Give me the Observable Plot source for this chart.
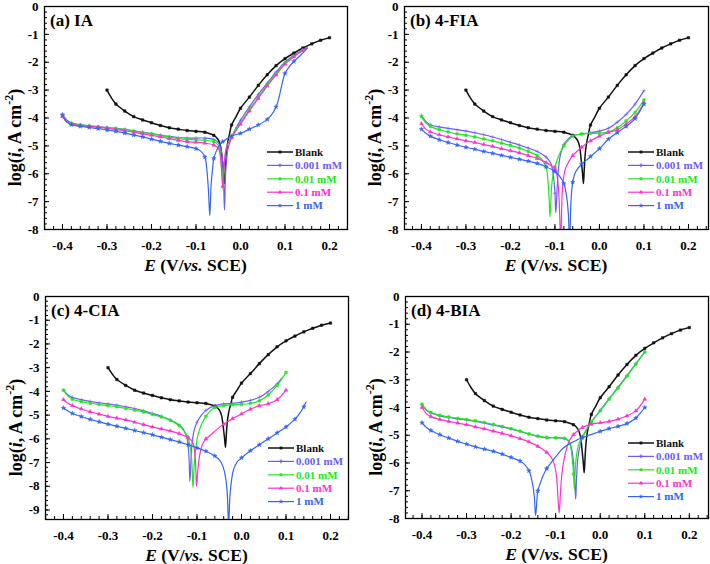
<!DOCTYPE html>
<html><head><meta charset="utf-8">
<script src="https://cdn.jsdelivr.net/npm/d3@7"></script>
<script src="https://cdn.jsdelivr.net/npm/@observablehq/plot@0.6"></script>
<style>
body{margin:0;background:#fff;}
#wrap{position:relative;width:710px;height:564px;overflow:hidden;}
.p{position:absolute;}
</style></head><body><div id="wrap"></div>
<script>
// ---------- categories / style keys ----------
const seriesNames = ["Blank", "0.001 mM", "0.01 mM", "0.1 mM", "1 mM"];
const seriesColors = ["#111111", "#6b5cf5", "#22e622", "#ff33cc", "#3366ee"];
const seriesSymbols = ["square", "plus", "square", "triangle", "star"];
const xTickValues = [-0.4, -0.3, -0.2, -0.1, 0, 0.1, 0.2];
const yTickValues8 = [0, -1, -2, -3, -4, -5, -6, -7, -8];
const yTickValues9 = [0, -1, -2, -3, -4, -5, -6, -7, -8, -9];

// ---------- data: [E (V vs SCE), log i] ----------
const blank = [[-0.3,-3.0],[-0.29,-3.28],[-0.28,-3.5],[-0.26,-3.75],[-0.24,-3.95],[-0.22,-4.07],[-0.2,-4.17],[-0.18,-4.27],[-0.16,-4.35],[-0.14,-4.4],[-0.12,-4.45],[-0.1,-4.48],[-0.08,-4.51],[-0.06,-4.62],[-0.05,-4.78],[-0.045,-5.0],[-0.041,-5.5],[-0.038,-6.0],[-0.036,-6.35],[-0.034,-5.8],[-0.032,-5.3],[-0.029,-4.9],[-0.025,-4.6],[-0.02,-4.25],[-0.01,-3.95],[0.0,-3.65],[0.02,-3.25],[0.04,-2.83],[0.06,-2.45],[0.08,-2.12],[0.1,-1.87],[0.12,-1.67],[0.14,-1.49],[0.16,-1.34],[0.18,-1.21],[0.2,-1.12]];

// (a) IA
const ia0001 = [[-0.4,-3.85],[-0.39,-4.08],[-0.38,-4.17],[-0.36,-4.24],[-0.34,-4.28],[-0.32,-4.31],[-0.3,-4.34],[-0.28,-4.37],[-0.26,-4.41],[-0.24,-4.46],[-0.22,-4.51],[-0.2,-4.56],[-0.18,-4.61],[-0.16,-4.66],[-0.14,-4.7],[-0.12,-4.72],[-0.1,-4.72],[-0.08,-4.72],[-0.06,-4.77],[-0.05,-4.88],[-0.044,-5.1],[-0.04,-5.6],[-0.038,-6.3],[-0.036,-7.3],[-0.034,-6.2],[-0.032,-5.6],[-0.028,-5.1],[-0.02,-4.7],[-0.01,-4.35],[0.0,-4.08],[0.02,-3.6],[0.04,-3.15],[0.06,-2.75],[0.08,-2.35],[0.1,-2.0],[0.12,-1.75],[0.14,-1.55],[0.15,-1.45]];
const ia001 = [[-0.4,-3.9],[-0.39,-4.12],[-0.38,-4.2],[-0.36,-4.25],[-0.34,-4.29],[-0.32,-4.32],[-0.3,-4.35],[-0.28,-4.38],[-0.26,-4.42],[-0.24,-4.47],[-0.22,-4.52],[-0.2,-4.57],[-0.18,-4.63],[-0.16,-4.69],[-0.14,-4.74],[-0.12,-4.77],[-0.1,-4.78],[-0.08,-4.8],[-0.06,-4.85],[-0.05,-4.97],[-0.046,-5.2],[-0.042,-5.8],[-0.039,-6.6],[-0.037,-5.9],[-0.034,-5.3],[-0.03,-4.98],[-0.02,-4.68],[-0.01,-4.4],[0.0,-4.18],[0.02,-3.7],[0.04,-3.25],[0.06,-2.8],[0.08,-2.4],[0.1,-2.03],[0.12,-1.78],[0.14,-1.57],[0.15,-1.47]];
const ia01 = [[-0.4,-3.95],[-0.39,-4.15],[-0.38,-4.22],[-0.36,-4.27],[-0.34,-4.3],[-0.32,-4.33],[-0.3,-4.37],[-0.28,-4.41],[-0.26,-4.46],[-0.24,-4.51],[-0.22,-4.57],[-0.2,-4.62],[-0.18,-4.68],[-0.16,-4.74],[-0.14,-4.8],[-0.12,-4.85],[-0.1,-4.87],[-0.08,-4.9],[-0.06,-4.97],[-0.05,-5.08],[-0.046,-5.3],[-0.043,-5.8],[-0.04,-6.45],[-0.037,-5.8],[-0.034,-5.25],[-0.03,-4.98],[-0.02,-4.7],[-0.01,-4.45],[0.0,-4.22],[0.02,-3.75],[0.04,-3.3],[0.06,-2.85],[0.08,-2.45],[0.1,-2.07],[0.12,-1.8],[0.14,-1.58],[0.15,-1.48]];
const ia1 = [[-0.4,-3.9],[-0.39,-4.15],[-0.38,-4.24],[-0.36,-4.3],[-0.34,-4.34],[-0.32,-4.38],[-0.3,-4.43],[-0.28,-4.48],[-0.26,-4.54],[-0.24,-4.61],[-0.22,-4.68],[-0.2,-4.76],[-0.18,-4.84],[-0.16,-4.91],[-0.14,-4.97],[-0.12,-5.03],[-0.1,-5.1],[-0.09,-5.18],[-0.08,-5.4],[-0.076,-5.8],[-0.072,-6.6],[-0.069,-7.5],[-0.066,-6.4],[-0.062,-5.7],[-0.06,-5.45],[-0.05,-5.05],[-0.04,-4.85],[-0.02,-4.65],[0.0,-4.55],[0.02,-4.4],[0.04,-4.25],[0.06,-4.05],[0.07,-3.88],[0.08,-3.6],[0.086,-3.3],[0.093,-2.8],[0.1,-2.4],[0.11,-2.15],[0.12,-1.97],[0.135,-1.75],[0.15,-1.5]];

// (b) 4-FIA
const fia0001 = [[-0.4,-3.9],[-0.39,-4.12],[-0.38,-4.24],[-0.36,-4.32],[-0.34,-4.37],[-0.32,-4.42],[-0.3,-4.47],[-0.28,-4.53],[-0.26,-4.6],[-0.24,-4.68],[-0.22,-4.77],[-0.2,-4.87],[-0.18,-4.97],[-0.16,-5.08],[-0.14,-5.2],[-0.12,-5.4],[-0.11,-5.6],[-0.104,-6.0],[-0.1,-6.7],[-0.098,-7.4],[-0.095,-6.5],[-0.092,-5.8],[-0.088,-5.35],[-0.08,-4.95],[-0.07,-4.75],[-0.06,-4.63],[-0.04,-4.58],[-0.02,-4.53],[0.0,-4.47],[0.02,-4.37],[0.04,-4.15],[0.06,-3.87],[0.08,-3.5],[0.1,-3.02]];
const fia001 = [[-0.4,-3.95],[-0.39,-4.18],[-0.38,-4.3],[-0.36,-4.42],[-0.34,-4.5],[-0.32,-4.57],[-0.3,-4.62],[-0.28,-4.68],[-0.26,-4.75],[-0.24,-4.82],[-0.22,-4.9],[-0.2,-4.98],[-0.18,-5.08],[-0.16,-5.2],[-0.14,-5.35],[-0.13,-5.48],[-0.12,-5.75],[-0.116,-6.2],[-0.113,-6.9],[-0.111,-7.55],[-0.108,-6.6],[-0.105,-6.1],[-0.1,-5.75],[-0.09,-5.3],[-0.08,-5.0],[-0.07,-4.8],[-0.06,-4.65],[-0.04,-4.57],[-0.02,-4.55],[0.0,-4.55],[0.02,-4.5],[0.04,-4.35],[0.06,-4.1],[0.08,-3.8],[0.1,-3.35]];
const fia01 = [[-0.4,-4.2],[-0.39,-4.4],[-0.38,-4.5],[-0.36,-4.6],[-0.34,-4.68],[-0.32,-4.75],[-0.3,-4.82],[-0.28,-4.88],[-0.26,-4.95],[-0.24,-5.02],[-0.22,-5.1],[-0.2,-5.17],[-0.18,-5.25],[-0.16,-5.35],[-0.14,-5.45],[-0.12,-5.6],[-0.1,-5.82],[-0.095,-6.1],[-0.091,-6.8],[-0.087,-8.4],[-0.084,-6.8],[-0.081,-6.2],[-0.076,-5.8],[-0.07,-5.6],[-0.06,-5.35],[-0.04,-5.05],[-0.02,-4.82],[0.0,-4.65],[0.02,-4.52],[0.04,-4.42],[0.06,-4.22],[0.08,-3.95],[0.1,-3.45]];
const fia1 = [[-0.4,-4.4],[-0.39,-4.55],[-0.38,-4.65],[-0.36,-4.78],[-0.34,-4.88],[-0.32,-4.97],[-0.3,-5.05],[-0.28,-5.12],[-0.26,-5.2],[-0.24,-5.27],[-0.22,-5.34],[-0.2,-5.41],[-0.18,-5.48],[-0.16,-5.55],[-0.14,-5.63],[-0.12,-5.75],[-0.1,-5.92],[-0.09,-6.08],[-0.08,-6.35],[-0.074,-6.8],[-0.07,-7.4],[-0.067,-8.6],[-0.064,-7.0],[-0.06,-6.3],[-0.054,-5.95],[-0.04,-5.65],[-0.03,-5.52],[-0.02,-5.38],[0.0,-5.1],[0.02,-4.76],[0.04,-4.52],[0.06,-4.3],[0.08,-4.02],[0.1,-3.5]];

// (c) 4-CIA
const cia0001 = [[-0.4,-3.95],[-0.39,-4.15],[-0.38,-4.25],[-0.36,-4.35],[-0.34,-4.42],[-0.32,-4.48],[-0.3,-4.53],[-0.28,-4.58],[-0.26,-4.65],[-0.24,-4.72],[-0.22,-4.82],[-0.2,-4.93],[-0.18,-5.05],[-0.16,-5.2],[-0.14,-5.42],[-0.13,-5.62],[-0.122,-6.0],[-0.118,-6.8],[-0.116,-7.8],[-0.113,-6.7],[-0.11,-6.0],[-0.105,-5.55],[-0.1,-5.3],[-0.09,-5.0],[-0.08,-4.8],[-0.06,-4.6],[-0.04,-4.53],[-0.02,-4.5],[0.0,-4.45],[0.02,-4.38],[0.04,-4.25],[0.06,-4.0],[0.08,-3.68],[0.09,-3.45]];
const cia001 = [[-0.4,-3.95],[-0.39,-4.2],[-0.38,-4.33],[-0.36,-4.43],[-0.34,-4.5],[-0.32,-4.55],[-0.3,-4.6],[-0.28,-4.65],[-0.26,-4.72],[-0.24,-4.79],[-0.22,-4.87],[-0.2,-4.97],[-0.18,-5.08],[-0.16,-5.22],[-0.14,-5.45],[-0.13,-5.65],[-0.12,-5.95],[-0.114,-6.5],[-0.111,-7.2],[-0.109,-8.05],[-0.106,-7.0],[-0.102,-6.3],[-0.098,-5.85],[-0.09,-5.4],[-0.08,-5.05],[-0.07,-4.82],[-0.06,-4.68],[-0.04,-4.6],[-0.02,-4.56],[0.0,-4.55],[0.02,-4.5],[0.04,-4.4],[0.06,-4.15],[0.08,-3.75],[0.1,-3.2]];
const cia01 = [[-0.4,-4.35],[-0.39,-4.5],[-0.38,-4.6],[-0.36,-4.74],[-0.34,-4.86],[-0.32,-4.96],[-0.3,-5.05],[-0.28,-5.13],[-0.26,-5.2],[-0.24,-5.3],[-0.22,-5.4],[-0.2,-5.5],[-0.18,-5.58],[-0.16,-5.67],[-0.14,-5.78],[-0.12,-5.95],[-0.11,-6.12],[-0.106,-6.45],[-0.103,-7.1],[-0.101,-8.0],[-0.098,-7.3],[-0.094,-6.7],[-0.088,-6.25],[-0.08,-6.0],[-0.07,-5.85],[-0.055,-5.6],[-0.04,-5.38],[-0.02,-5.15],[0.0,-4.95],[0.02,-4.75],[0.04,-4.6],[0.06,-4.52],[0.08,-4.35],[0.1,-3.95]];
const cia1 = [[-0.4,-4.7],[-0.39,-4.83],[-0.38,-4.93],[-0.36,-5.06],[-0.34,-5.18],[-0.32,-5.28],[-0.3,-5.38],[-0.28,-5.47],[-0.26,-5.56],[-0.24,-5.65],[-0.22,-5.74],[-0.2,-5.83],[-0.18,-5.93],[-0.16,-6.03],[-0.14,-6.13],[-0.12,-6.25],[-0.1,-6.38],[-0.08,-6.52],[-0.06,-6.72],[-0.05,-6.88],[-0.042,-7.15],[-0.036,-7.6],[-0.032,-8.3],[-0.029,-9.6],[-0.026,-8.4],[-0.022,-7.7],[-0.018,-7.3],[-0.01,-6.98],[0.0,-6.8],[0.02,-6.5],[0.04,-6.25],[0.06,-6.0],[0.08,-5.75],[0.1,-5.5],[0.12,-5.17],[0.13,-4.95],[0.14,-4.65],[0.145,-4.45]];

// (d) 4-BIA
const bia0001 = [[-0.4,-3.9],[-0.39,-4.1],[-0.38,-4.2],[-0.36,-4.3],[-0.34,-4.36],[-0.32,-4.41],[-0.3,-4.45],[-0.28,-4.5],[-0.26,-4.56],[-0.24,-4.63],[-0.22,-4.7],[-0.2,-4.78],[-0.18,-4.86],[-0.16,-4.96],[-0.14,-5.04],[-0.12,-5.09],[-0.1,-5.09],[-0.08,-5.12],[-0.07,-5.22],[-0.064,-5.5],[-0.06,-6.0],[-0.057,-6.7],[-0.055,-7.3],[-0.053,-6.5],[-0.05,-5.8],[-0.045,-5.35],[-0.04,-5.1],[-0.03,-4.78],[-0.02,-4.52],[0.0,-4.1],[0.02,-3.68],[0.04,-3.27],[0.06,-2.85],[0.08,-2.42],[0.1,-2.0]];
const bia001 = [[-0.4,-3.88],[-0.39,-4.08],[-0.38,-4.18],[-0.36,-4.28],[-0.34,-4.34],[-0.32,-4.39],[-0.3,-4.43],[-0.28,-4.48],[-0.26,-4.54],[-0.24,-4.61],[-0.22,-4.68],[-0.2,-4.76],[-0.18,-4.85],[-0.16,-4.95],[-0.14,-5.03],[-0.12,-5.08],[-0.1,-5.09],[-0.08,-5.11],[-0.07,-5.2],[-0.066,-5.45],[-0.062,-5.95],[-0.06,-6.4],[-0.058,-6.95],[-0.056,-6.2],[-0.053,-5.7],[-0.048,-5.3],[-0.04,-5.05],[-0.03,-4.76],[-0.02,-4.52],[0.0,-4.12],[0.02,-3.7],[0.04,-3.3],[0.06,-2.87],[0.08,-2.44],[0.1,-2.0]];
const bia01 = [[-0.4,-4.0],[-0.39,-4.22],[-0.38,-4.33],[-0.36,-4.43],[-0.34,-4.5],[-0.32,-4.56],[-0.3,-4.62],[-0.28,-4.7],[-0.26,-4.77],[-0.24,-4.85],[-0.22,-4.93],[-0.2,-5.02],[-0.18,-5.12],[-0.16,-5.24],[-0.14,-5.4],[-0.12,-5.62],[-0.11,-5.8],[-0.103,-6.05],[-0.098,-6.5],[-0.095,-7.2],[-0.092,-7.8],[-0.089,-7.0],[-0.086,-6.4],[-0.082,-5.95],[-0.076,-5.5],[-0.07,-5.22],[-0.06,-4.98],[-0.05,-4.83],[-0.04,-4.72],[-0.02,-4.6],[0.0,-4.55],[0.02,-4.5],[0.04,-4.42],[0.06,-4.3],[0.08,-4.12],[0.1,-3.7]];
const bia1 = [[-0.4,-4.55],[-0.39,-4.72],[-0.38,-4.83],[-0.36,-4.98],[-0.34,-5.1],[-0.32,-5.22],[-0.3,-5.32],[-0.28,-5.42],[-0.26,-5.5],[-0.24,-5.58],[-0.22,-5.68],[-0.2,-5.8],[-0.18,-5.93],[-0.17,-6.05],[-0.16,-6.28],[-0.153,-6.65],[-0.148,-7.2],[-0.145,-7.9],[-0.14,-7.0],[-0.135,-6.75],[-0.128,-6.45],[-0.12,-6.2],[-0.106,-5.9],[-0.095,-5.68],[-0.084,-5.48],[-0.07,-5.32],[-0.054,-5.19],[-0.04,-5.08],[-0.016,-4.95],[0.0,-4.86],[0.02,-4.76],[0.04,-4.68],[0.06,-4.58],[0.08,-4.38],[0.09,-4.2],[0.1,-4.0]];

// ---------- panels ----------
const panels = [
  {title: "(a) IA", series: [blank, ia0001, ia001, ia01, ia1], xDomain: [-0.4404, 0.2404], yDomain: [-8, 0], yTicks: yTickValues8,
   left: 0, top: 0, width: 355, height: 280, m: {l: 44, r: 8, t: 6, b: 51}, legendDy: 146},
  {title: "(b) 4-FIA", series: [blank, fia0001, fia001, fia01, fia1], xDomain: [-0.438, 0.245], yDomain: [-8, 0], yTicks: yTickValues8,
   left: 355, top: 0, width: 355, height: 280, m: {l: 49, r: 2, t: 6, b: 51}, legendDy: 146},
  {title: "(c) 4-CIA", series: [blank, cia0001, cia001, cia01, cia1], xDomain: [-0.4404, 0.2404], yDomain: [-9.4, 0], yTicks: yTickValues9,
   left: 0, top: 280, width: 355, height: 284, m: {l: 45, r: 7, t: 16, b: 45}, legendDy: 152},
  {title: "(d) 4-BIA", series: [blank, bia0001, bia001, bia01, bia1], xDomain: [-0.437, 0.243], yDomain: [-8, 0], yTicks: yTickValues8,
   left: 355, top: 280, width: 355, height: 284, m: {l: 50, r: 2, t: 16, b: 46}, legendDy: 147}
];

const FONT = "'Liberation Serif', 'Times New Roman', serif";
const onGrid = d => Math.abs(Math.round(d[0] * 50) - d[0] * 50) < 1e-6;
const fmtX = d => (d < 0 ? "-" : "") + Math.abs(d).toFixed(1);
const fmtY = d => (d < 0 ? "-" : "") + Math.abs(d);
const legendSymbols = [d3.symbolSquare, d3.symbolCross, d3.symbolSquare, d3.symbolTriangle, d3.symbolStar];

const wrap = document.getElementById("wrap");

panels.forEach(p => {
  const xMinor = d3.range(-22, 13).map(i => i / 50).filter(v => v >= p.xDomain[0] && v <= p.xDomain[1]);
  const yMinor = d3.range(Math.ceil(p.yDomain[0] * 5), 1).map(i => i / 5);
  const marks = [];
  p.series.forEach((s, k) => {
    marks.push(Plot.line(s, {x: d => d[0], y: d => d[1], stroke: seriesColors[k], strokeWidth: k === 0 ? 1.5 : 1.2, curve: "catmull-rom", clip: true}));
  });
  p.series.forEach((s, k) => {
    marks.push(Plot.dot(s.filter(onGrid), {x: d => d[0], y: d => d[1], fill: seriesColors[k], stroke: seriesColors[k], strokeWidth: 0.5, r: 1.4, symbol: seriesSymbols[k], clip: true}));
  });
  marks.push(
    Plot.axisX(xMinor, {anchor: "bottom", tickSize: -3, tickFormat: () => "", label: null}),
    Plot.axisX(xTickValues, {anchor: "bottom", tickSize: -5, tickFormat: () => "", label: null}),
    Plot.axisX(xTickValues, {anchor: "bottom", tickSize: 0, tickPadding: 11, tickFormat: fmtX, label: null, fontWeight: "bold", fontSize: 13}),
    Plot.axisY(yMinor, {anchor: "left", tickSize: -3, tickFormat: () => "", label: null}),
    Plot.axisY(p.yTicks, {anchor: "left", tickSize: -5, tickFormat: () => "", label: null}),
    Plot.axisY(p.yTicks, {anchor: "left", tickSize: 0, tickPadding: 6, tickFormat: fmtY, label: null, fontWeight: "bold", fontSize: 13}),
    Plot.frame({stroke: "#000", strokeWidth: 1.3})
  );
  const svg = Plot.plot({
    width: p.width, height: p.height,
    marginLeft: p.m.l, marginRight: p.m.r, marginTop: p.m.t, marginBottom: p.m.b,
    x: {domain: p.xDomain},
    y: {domain: p.yDomain},
    style: {fontFamily: FONT, fontSize: "13px", fontWeight: "bold", background: "transparent", color: "#000", overflow: "visible"},
    marks
  });
  const div = document.createElement("div");
  div.className = "p";
  div.style.left = p.left + "px"; div.style.top = p.top + "px";
  div.style.width = p.width + "px"; div.style.height = p.height + "px";
  div.appendChild(svg);
  wrap.appendChild(div);

  const g = d3.select(svg).append("g").attr("font-family", FONT).attr("font-weight", "bold").attr("text-anchor", "start");
  const fL = p.m.l, fR = p.width - p.m.r, fT = p.m.t, fB = p.height - p.m.b;

  // panel title
  g.append("text").attr("x", fL + 6).attr("y", fT + 20).attr("font-size", 17).attr("fill", "#000").text(p.title);

  // x axis title
  const xt = g.append("text").attr("x", (fL + fR) / 2).attr("y", fB + 42).attr("text-anchor", "middle").attr("font-size", 17.5).attr("fill", "#000");
  xt.append("tspan").attr("font-style", "italic").text("E");
  xt.append("tspan").text(" (V/");
  xt.append("tspan").attr("font-style", "italic").text("vs.");
  xt.append("tspan").text(" SCE)");

  // y axis title
  const cx = fL - 29 + 6, cy = (fT + fB) / 2 + 20;
  const yt = g.append("text").attr("transform", `translate(${cx},${cy}) rotate(-90)`).attr("text-anchor", "middle").attr("font-size", 18).attr("fill", "#000");
  yt.append("tspan").text("log(");
  yt.append("tspan").attr("font-style", "italic").text("i");
  yt.append("tspan").text(", A cm");
  yt.append("tspan").attr("font-size", 12).attr("dy", -8).text("-2");
  yt.append("tspan").attr("dy", 8).text(")");

  // legend
  seriesNames.forEach((name, k) => {
    const y = fT + p.legendDy + 13.4 * k;
    g.append("line").attr("x1", fR - 80).attr("x2", fR - 54).attr("y1", y).attr("y2", y)
      .attr("stroke", seriesColors[k]).attr("stroke-width", k === 0 ? 1.5 : 1.2);
    g.append("path").attr("transform", `translate(${fR - 67},${y})`)
      .attr("d", d3.symbol(legendSymbols[k], 8)())
      .attr("fill", seriesColors[k]);
    g.append("text").attr("x", fR - 52).attr("y", y).attr("dy", "0.35em").attr("font-size", 11)
      .attr("text-anchor", "start").attr("fill", seriesColors[k]).text(name);
  });
});
</script></body></html>
